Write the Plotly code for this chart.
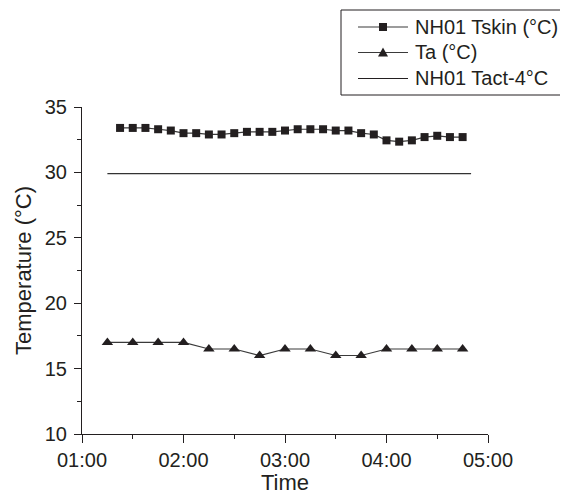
import plotly.graph_objects as go

day = "2000-01-01 "
tskin_times = ["01:22:30", "01:30:00", "01:37:30", "01:45:00", "01:52:30", "02:00:00", "02:07:30",
               "02:15:00", "02:22:30", "02:30:00", "02:37:30", "02:45:00", "02:52:30", "03:00:00",
               "03:07:30", "03:15:00", "03:22:30", "03:30:00", "03:37:30", "03:45:00", "03:52:30",
               "04:00:00", "04:07:30", "04:15:00", "04:22:30", "04:30:00", "04:37:30", "04:45:00"]
tskin_values = [33.4, 33.4, 33.4, 33.3, 33.2, 33.0, 33.0, 32.9, 32.9, 33.0, 33.1, 33.1, 33.1, 33.2,
                33.3, 33.3, 33.3, 33.2, 33.2, 33.0, 32.9, 32.45, 32.35, 32.45, 32.7, 32.8, 32.7, 32.7]

ta_times = ["01:15", "01:30", "01:45", "02:00", "02:15", "02:30", "02:45", "03:00",
            "03:15", "03:30", "03:45", "04:00", "04:15", "04:30", "04:45"]
ta_values = [17, 17, 17, 17, 16.5, 16.5, 16, 16.5, 16.5, 16, 16, 16.5, 16.5, 16.5, 16.5]

tact_times = ["01:15", "04:50"]
tact_values = [29.9, 29.9]

series_names = ["NH01 Tskin (°C)", "Ta (°C)", "NH01 Tact-4°C"]

x_ticks = ["01:00", "02:00", "03:00", "04:00", "05:00"]
x_minor = ["01:30", "02:30", "03:30", "04:30"]
y_ticks = [10, 15, 20, 25, 30, 35]
y_minor = [12.5, 17.5, 22.5, 27.5, 32.5]

FONT = "Liberation Sans, Arial, sans-serif"
dark = "#231f20"
linec = "#3a3a3a"

# page offset (browser body margin) and plot area in page pixels
OFF = 8
PL, PR, PT, PB = 82, 488, 107, 434
W, H = 568 - OFF, 495 - OFF


def xp(px):
    return (px - PL) / (PR - PL)


def yp(py):
    return (PB - py) / (PB - PT)


fig = go.Figure()
fig.add_trace(go.Scatter(
    x=[day + t for t in tskin_times], y=tskin_values, name=series_names[0],
    mode="lines+markers", line=dict(color=linec, width=1.2),
    marker=dict(symbol="square", size=8, color=dark)))
fig.add_trace(go.Scatter(
    x=[day + t for t in ta_times], y=ta_values, name=series_names[1],
    mode="lines+markers", line=dict(color=linec, width=1.2),
    marker=dict(symbol="triangle-up", size=10, color=dark)))
fig.add_trace(go.Scatter(
    x=[day + t for t in tact_times], y=tact_values, name=series_names[2],
    mode="lines", line=dict(color="#333333", width=1.3)))

# legend drawn by hand to match the reference box
shapes = [dict(type="rect", xref="paper", yref="paper",
               x0=xp(341), x1=xp(580), y0=yp(95), y1=yp(10),
               line=dict(color=dark, width=1), fillcolor="white", layer="above")]
annotations = []
rows = [27, 52.5, 78.5]
for i, (name, ry) in enumerate(zip(series_names, rows)):
    shapes.append(dict(type="line", xref="paper", yref="paper",
                       x0=xp(358), x1=xp(408), y0=yp(ry), y1=yp(ry),
                       line=dict(color=linec if i < 2 else dark, width=1.2), layer="above"))
    annotations.append(dict(xref="paper", yref="paper", x=xp(414), y=yp(ry),
                            xanchor="left", yanchor="middle", showarrow=False,
                            text=name, font=dict(size=20, family=FONT, color=dark),
                            borderpad=0))
# legend symbols
shapes.append(dict(type="rect", xref="paper", yref="paper",
                   x0=xp(379), x1=xp(387), y0=yp(rows[0] + 4), y1=yp(rows[0] - 4),
                   line=dict(width=0), fillcolor=dark, layer="above"))
tx0, tx1, tx2 = xp(378), xp(383), xp(388)
ty0, ty1 = yp(rows[1] + 4), yp(rows[1] - 5)
shapes.append(dict(type="path", xref="paper", yref="paper",
                   path=f"M {tx0} {ty0} L {tx2} {ty0} L {tx1} {ty1} Z",
                   line=dict(width=0), fillcolor=dark, layer="above"))

fig.update_layout(
    width=W, height=H,
    margin=dict(l=PL - OFF, r=W - (PR - OFF), t=PT - OFF, b=H - (PB - OFF), autoexpand=False),
    paper_bgcolor="white", plot_bgcolor="white",
    font=dict(family=FONT, size=20, color=dark),
    showlegend=False,
    shapes=shapes, annotations=annotations,
    xaxis=dict(
        type="date", range=[day + "01:00", day + "05:00"], automargin=False,
        tickvals=[day + t for t in x_ticks], ticktext=x_ticks,
        showline=True, linecolor=dark, linewidth=1, mirror=False,
        ticks="outside", ticklen=8, tickcolor=dark, tickwidth=1,
        showgrid=False, zeroline=False,
        minor=dict(tickvals=[day + t for t in x_minor],
                   ticks="outside", ticklen=4, tickcolor=dark, showgrid=False),
        title=dict(text="Time", standoff=7, font=dict(size=22)),
        tickfont=dict(size=20),
    ),
    yaxis=dict(
        range=[10, 35], tickvals=y_ticks, automargin=False,
        showline=True, linecolor=dark, linewidth=1, mirror=False,
        ticks="outside", ticklen=7, tickcolor=dark, tickwidth=1,
        showgrid=False, zeroline=False, ticklabelstandoff=3,
        minor=dict(tickvals=y_minor,
                   ticks="outside", ticklen=4, tickcolor=dark, showgrid=False),
        title=dict(text="Temperature (°C)", standoff=7, font=dict(size=22)),
        tickfont=dict(size=20),
    ),
)

fig.write_html("out.html")
